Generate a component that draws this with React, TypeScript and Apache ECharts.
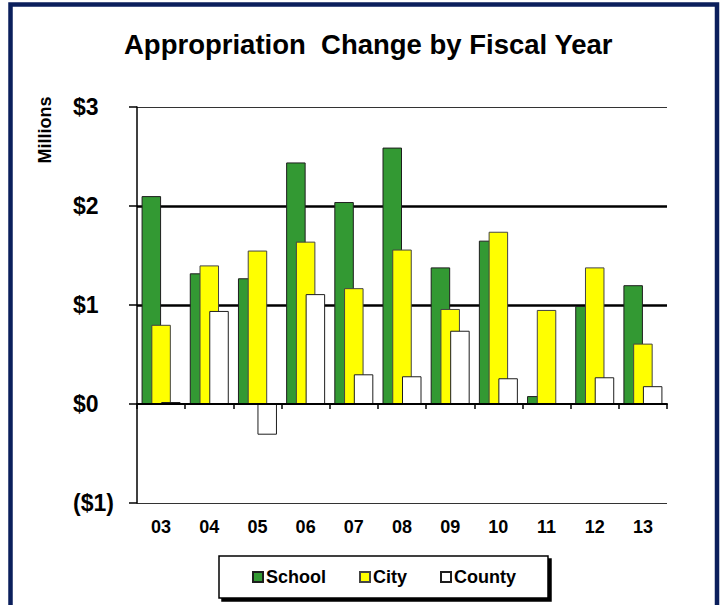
import React, { useEffect, useRef } from "react";
import * as echarts from "echarts";

const categories = ["03", "04", "05", "06", "07", "08", "09", "10", "11", "12", "13"];
const schoolValues = [2.10, 1.32, 1.27, 2.44, 2.04, 2.59, 1.38, 1.65, 0.08, 0.99, 1.20];
const cityValues = [0.80, 1.40, 1.55, 1.64, 1.17, 1.56, 0.96, 1.74, 0.95, 1.38, 0.61];
const countyValues = [0.02, 0.94, -0.31, 1.11, 0.30, 0.28, 0.74, 0.26, 0, 0.27, 0.18];
const heavyGridValues = [1, 2];

const FONT = '"Liberation Sans", Arial, sans-serif';

export default function App() {
  const ref = useRef<HTMLDivElement>(null);

  useEffect(() => {
    if (!ref.current) return;
    const chart = echarts.init(ref.current, undefined, { renderer: "svg" });
    const barBase = {
      type: "bar",
      xAxisIndex: 0,
      yAxisIndex: 0,
      barWidth: 19.5,
      barGap: "-50%",
    };
    chart.setOption({
      animation: false,
      backgroundColor: "#ffffff",
      title: {
        text: "Appropriation  Change by Fiscal Year",
        left: 124,
        top: 30,
        padding: 0,
        textStyle: { fontFamily: FONT, fontSize: 27.5, fontWeight: "bold", color: "#000" },
      },
      legend: {
        left: 219,
        top: 556,
        padding: [12, 32, 12, 33],
        itemGap: 33,
        itemWidth: 10,
        itemHeight: 10,
        icon: "rect",
        backgroundColor: "#fff",
        borderColor: "#000",
        borderWidth: 1.5,
        shadowColor: "#000",
        shadowBlur: 0,
        shadowOffsetX: 3,
        shadowOffsetY: 3,
        textStyle: { fontFamily: FONT, fontSize: 18, fontWeight: "bold", color: "#000", padding: [0, 0, 0, -2] },
        data: ["School", "City", "County"],
      },
      grid: { left: 137, right: 56, top: 107, bottom: 102 },
      xAxis: [
        {
          type: "category",
          data: categories,
          position: "bottom",
          axisLine: { onZero: true, lineStyle: { color: "#000", width: 2 } },
          axisTick: { show: true, length: 5, lineStyle: { color: "#000", width: 1.5 } },
          axisLabel: { show: false },
          splitLine: { show: false },
          z: 5,
        },
        {
          type: "category",
          data: categories,
          position: "bottom",
          axisLine: { show: false, onZero: false },
          axisTick: { show: false },
          axisLabel: { show: true, margin: 15, fontFamily: FONT, fontSize: 18, fontWeight: "bold", color: "#000" },
          splitLine: { show: false },
        },
      ],
      yAxis: {
        type: "value",
        min: -1,
        max: 3,
        interval: 1,
        axisLine: { show: true, lineStyle: { color: "#000", width: 1.5 } },
        axisTick: { show: true, length: 8, lineStyle: { color: "#000", width: 1.5 } },
        axisLabel: {
          align: "left",
          margin: 64,
          fontFamily: FONT,
          fontSize: 23,
          fontWeight: "bold",
          color: "#000",
          formatter: (v: number) => (v < 0 ? `($${-v})` : `$${v}`),
        },
        splitLine: { show: true, lineStyle: { color: "#333", width: 1.2 } },
      },
      graphic: [
        {
          type: "text",
          x: 45,
          y: 130,
          rotation: Math.PI / 2,
          style: {
            text: "Millions",
            font: 'bold 18px "Liberation Sans", Arial, sans-serif',
            fill: "#000",
            align: "center",
            verticalAlign: "middle",
          },
        },
        {
          type: "rect",
          z: 100,
          silent: true,
          shape: { x: 10.5, y: 4.5, width: 706.5, height: 700 },
          style: { fill: "none", stroke: "#0b1f5c", lineWidth: 4.5 },
        },
      ],
      series: [
        {
          ...barBase,
          name: "School",
          data: schoolValues,
          itemStyle: { color: "#339933", borderColor: "#1e1e1e", borderWidth: 1 },
          markLine: {
            silent: true,
            z: 1,
            symbol: "none",
            label: { show: false },
            lineStyle: { color: "#000", width: 2.5, type: "solid" },
            data: heavyGridValues.map((v) => ({ yAxis: v })),
          },
        },
        {
          ...barBase,
          name: "City",
          data: cityValues,
          itemStyle: { color: "#ffff00", borderColor: "#444", borderWidth: 1 },
        },
        {
          ...barBase,
          name: "County",
          data: countyValues,
          itemStyle: { color: "#ffffff", borderColor: "#1e1e1e", borderWidth: 1 },
        },
      ],
    });
    return () => chart.dispose();
  }, []);

  return (
    <div
      ref={ref}
      style={{ position: "fixed", left: 0, top: 0, width: 723, height: 605, background: "#fff" }}
    />
  );
}
